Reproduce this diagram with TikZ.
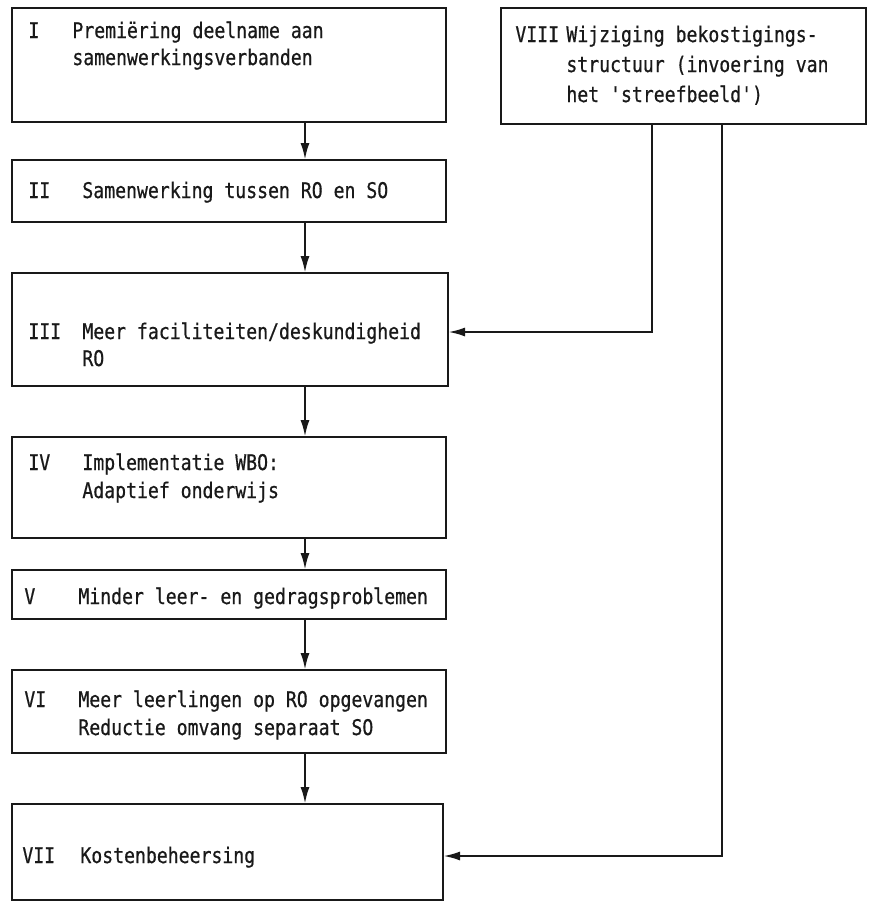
\documentclass[tikz,border=0pt]{standalone}
\usepackage{fontspec}
\setmonofont[FakeStretch=0.84,FakeBold=0.6]{DejaVu Sans Mono}
\usetikzlibrary{arrows.meta}
\begin{document}
\begin{tikzpicture}[x=0.5pt,y=-0.5pt,
  box/.style={draw=black!90,line width=1.3pt},
  txt/.style={anchor=base west,inner sep=0pt,font=\ttfamily\fontsize{10.8}{12}\selectfont,text=black!90},
  arr/.style={draw=black!90,line width=1.2pt,-{Latex[length=8.5pt,width=4.5pt]}}]
\useasboundingbox[fill=white] (0,0) rectangle (871,902);
% boxes
\draw[box] (12,8) rectangle (446,122);
\draw[box] (501,8) rectangle (866,124);
\draw[box] (12,160) rectangle (446,222);
\draw[box] (12,273) rectangle (448,386);
\draw[box] (12,437) rectangle (446,538);
\draw[box] (12,570) rectangle (446,619);
\draw[box] (12,670) rectangle (446,753);
\draw[box] (12,804) rectangle (443,900);
% anchor coordinates
\coordinate (Ib) at (305,122);
\coordinate (IIt) at (305,160);
\coordinate (IIb) at (305,222);
\coordinate (IIIt) at (305,273);
\coordinate (IIIb) at (305,386);
\coordinate (IIIr) at (448,332);
\coordinate (IVt) at (305,437);
\coordinate (IVb) at (305,538);
\coordinate (Vt) at (305,570);
\coordinate (Vb) at (305,619);
\coordinate (VIt) at (305,670);
\coordinate (VIb) at (305,753);
\coordinate (VIIt) at (305,804);
\coordinate (VIIr) at (443,856);
\coordinate (VIIIa) at (652,124);
\coordinate (VIIIb) at (722,124);
% texts
\node[txt] (n1) at (28,38) {I};
\node[txt] (t1a) at (72,38) {Premiëring deelname aan};
\node[txt] (t1b) at (72,65) {samenwerkingsverbanden};
\node[txt] (n8) at (515,42) {VIII};
\node[txt] (t8a) at (566,42) {Wijziging bekostigings-};
\node[txt] (t8b) at (566,72) {structuur (invoering van};
\node[txt] (t8c) at (566,102) {het 'streefbeeld')};
\node[txt] (n2) at (28,198) {II};
\node[txt] (t2) at (82,198) {Samenwerking tussen RO en SO};
\node[txt] (n3) at (28,339) {III};
\node[txt] (t3a) at (82,339) {Meer faciliteiten/deskundigheid};
\node[txt] (t3b) at (82,366) {RO};
\node[txt] (n4) at (28,470) {IV};
\node[txt] (t4a) at (82,470) {Implementatie WBO:};
\node[txt] (t4b) at (82,498) {Adaptief onderwijs};
\node[txt] (n5) at (24,604) {V};
\node[txt] (t5) at (78,604) {Minder leer- en gedragsproblemen};
\node[txt] (n6) at (24,707) {VI};
\node[txt] (t6a) at (78,707) {Meer leerlingen op RO opgevangen};
\node[txt] (t6b) at (78,735) {Reductie omvang separaat SO};
\node[txt] (n7) at (22,863) {VII};
\node[txt] (t7) at (80,863) {Kostenbeheersing};
% connectors
\draw[arr] (Ib) -- (IIt);
\draw[arr] (IIb) -- (IIIt);
\draw[arr] (IIIb) -- (IVt);
\draw[arr] (IVb) -- (Vt);
\draw[arr] (Vb) -- (VIt);
\draw[arr] (VIb) -- (VIIt);
\draw[arr] (VIIIa) |- (IIIr);
\draw[arr] (VIIIb) |- (VIIr);
\end{tikzpicture}
\end{document}
